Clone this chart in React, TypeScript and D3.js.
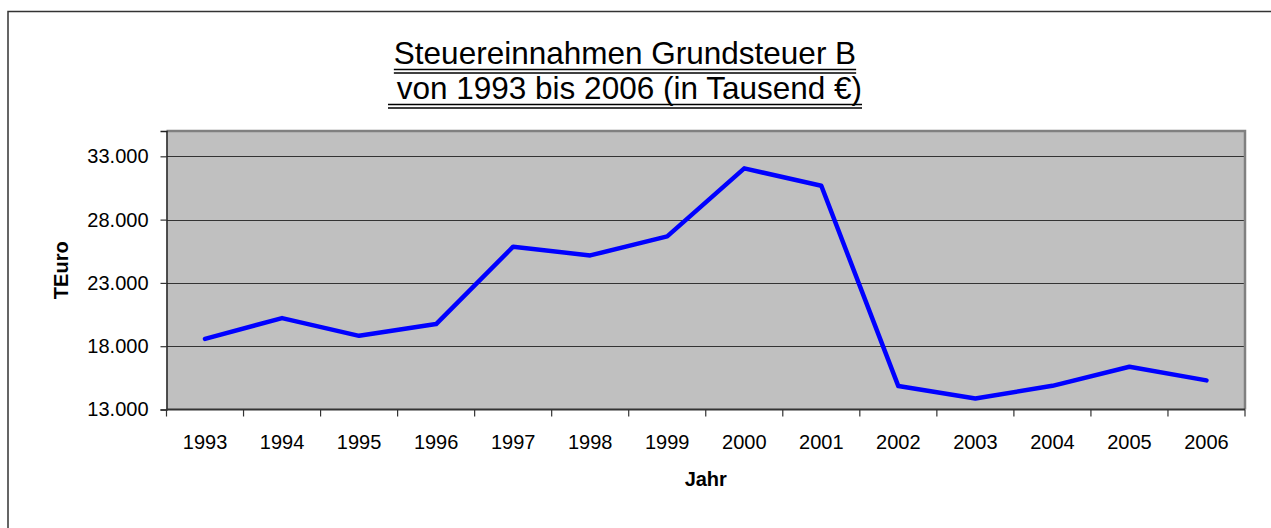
import React from 'react';
import * as d3 from 'd3';

const years = ['1993', '1994', '1995', '1996', '1997', '1998', '1999', '2000', '2001', '2002', '2003', '2004', '2005', '2006'];
const revenue = [18580, 20220, 18820, 19750, 25860, 25170, 26680, 32050, 30670, 14850, 13870, 14870, 16380, 15300];
const yTicks = [13000, 18000, 23000, 28000, 33000];
const titleLines = ['Steuereinnahmen Grundsteuer B', ' von 1993 bis 2006 (in Tausend €)'];

const W = 1271;
const H = 528;
const margin = { left: 166.5, right: 26, top: 131, bottom: 118.5 };

const fmt = (v: number) => d3.format(',')(v).replace(/,/g, '.');

const App = () => {
  const ref = React.useRef<SVGSVGElement>(null);

  React.useEffect(() => {
    const svg = d3.select(ref.current);
    svg.selectAll('*').remove();
    const font = 'Arial, "Liberation Sans", sans-serif';

    const x0 = margin.left, x1 = W - margin.right;
    const y0 = margin.top, y1 = H - margin.bottom;

    const x = d3.scaleBand().domain(years).range([x0, x1]);
    const y = d3.scaleLinear().domain([13000, 35000]).range([y1, y0]);

    // outer frame (runs off the right and bottom edge)
    svg.append('rect')
      .attr('x', 8).attr('y', 11.5)
      .attr('width', 1400).attr('height', 700)
      .attr('fill', 'white').attr('stroke', '#333').attr('stroke-width', 1.5);

    // title with double underline
    const tg = svg.append('g').attr('font-family', font).attr('font-size', 31.5).attr('fill', 'black');
    titleLines.forEach((t, i) => {
      const base = 64 + i * 35;
      const txt = tg.append('text')
        .attr('x', 625).attr('y', base)
        .attr('text-anchor', 'middle')
        .attr('xml:space', 'preserve')
        .style('white-space', 'pre')
        .text(t);
      const bb = (txt.node() as SVGTextElement).getBBox();
      [base + 5.5, base + 9].forEach(ly => {
        tg.append('line')
          .attr('x1', bb.x).attr('x2', bb.x + bb.width)
          .attr('y1', ly).attr('y2', ly)
          .attr('stroke', 'black').attr('stroke-width', 1.6);
      });
    });

    // plot background
    svg.append('rect')
      .attr('x', x0).attr('y', y0)
      .attr('width', x1 - x0).attr('height', y1 - y0)
      .attr('fill', '#c0c0c0');

    // gridlines
    svg.append('g').selectAll('line')
      .data(yTicks.slice(1))
      .enter().append('line')
      .attr('x1', x0).attr('x2', x1)
      .attr('y1', d => Math.round(y(d)) + 0.5).attr('y2', d => Math.round(y(d)) + 0.5)
      .attr('stroke', '#333').attr('stroke-width', 1.2);

    // top and right border
    svg.append('path')
      .attr('d', `M${x0},${y0}H${x1}V${y1}`)
      .attr('fill', 'none').attr('stroke', '#808080').attr('stroke-width', 2.5);

    // y axis
    const ya = svg.append('g')
      .attr('transform', `translate(${x0},0)`)
      .call(d3.axisLeft(y).tickValues(yTicks).tickSize(6).tickPadding(12).tickFormat(d => fmt(d as number)));
    ya.select('.domain').attr('stroke', '#222').attr('stroke-width', 1.5);
    ya.selectAll('.tick line').attr('stroke', '#333').attr('stroke-width', 1.2);
    ya.selectAll('text').attr('font-family', font).attr('font-size', 20).attr('fill', 'black');

    // x axis
    const bounds = d3.range(years.length + 1).map(i => x0 + i * x.step());
    const xa = svg.append('g')
      .attr('transform', `translate(0,${y1})`)
      .call(d3.axisBottom(x).tickSize(0).tickPadding(25));
    xa.select('.domain').remove();
    xa.selectAll('text').attr('font-family', font).attr('font-size', 20).attr('fill', 'black');
    svg.append('g').selectAll('line')
      .data(bounds)
      .enter().append('line')
      .attr('x1', d => d).attr('x2', d => d)
      .attr('y1', y1).attr('y2', y1 + 7)
      .attr('stroke', '#333').attr('stroke-width', 1.2);
    svg.append('line')
      .attr('x1', x0).attr('x2', x1)
      .attr('y1', y1).attr('y2', y1)
      .attr('stroke', '#333').attr('stroke-width', 2);

    // axis titles
    svg.append('text')
      .attr('transform', `translate(68,${(y0 + y1) / 2}) rotate(-90)`)
      .attr('text-anchor', 'middle')
      .attr('font-family', font).attr('font-size', 20).attr('font-weight', 'bold')
      .text('TEuro');
    svg.append('text')
      .attr('x', (x0 + x1) / 2).attr('y', 486)
      .attr('text-anchor', 'middle')
      .attr('font-family', font).attr('font-size', 20).attr('font-weight', 'bold')
      .text('Jahr');

    // line
    const line = d3.line<number>()
      .x((_, i) => (x(years[i]) as number) + x.bandwidth() / 2)
      .y(d => y(d));
    svg.append('path')
      .datum(revenue)
      .attr('d', line)
      .attr('fill', 'none')
      .attr('stroke', '#0000ff')
      .attr('stroke-width', 4.5)
      .attr('stroke-linejoin', 'round')
      .attr('stroke-linecap', 'round');
  }, []);

  return (
    <svg ref={ref} width={W} height={H} style={{ position: 'absolute', left: 0, top: 0, background: 'white' }} />
  );
};

export default App;
